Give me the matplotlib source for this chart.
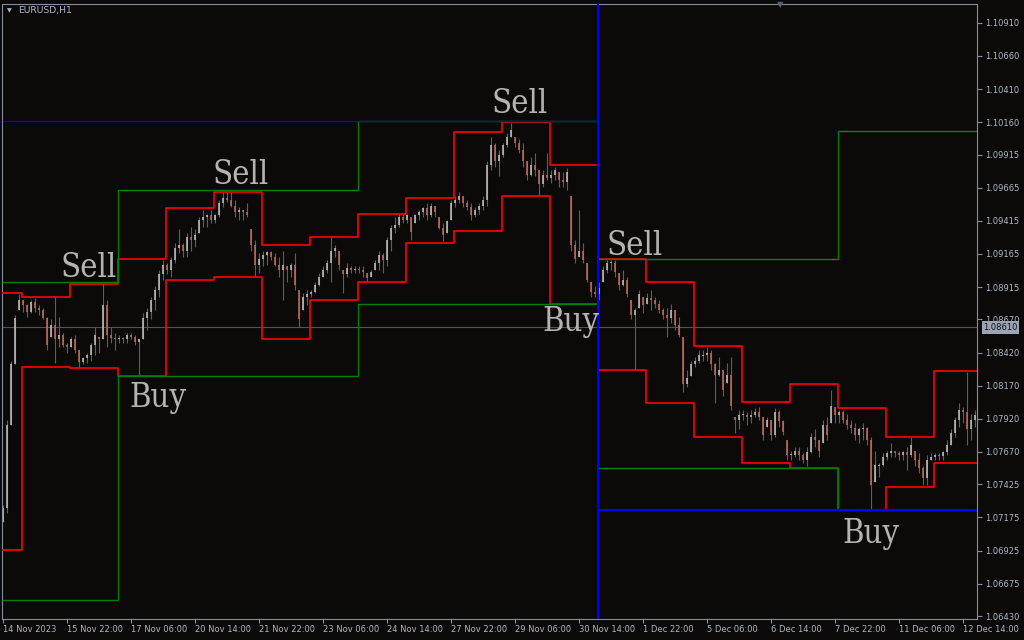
import numpy as np
import matplotlib
matplotlib.use("Agg")
import matplotlib.pyplot as plt
from matplotlib import font_manager
import matplotlib.transforms as mtransforms

# ---------------- data (EURUSD H1, one candle = 2 hourly bars) ----------------
highs = [
    1.0727, 1.0791, 1.0836, 1.0870, 1.0886, 1.0882, 1.0879, 1.0882, 1.0883, 1.0878,
    1.0876, 1.0869, 1.0867, 1.0884, 1.0869, 1.0857, 1.0849, 1.0854, 1.0855, 1.0844,
    1.0839, 1.0842, 1.0849, 1.0861, 1.0854, 1.0895, 1.0882, 1.0861, 1.0857, 1.0855,
    1.0854, 1.0857, 1.0857, 1.0855, 1.0852, 1.0872, 1.0876, 1.0884, 1.0892, 1.0904,
    1.0912, 1.0910, 1.0914, 1.0925, 1.0935, 1.0925, 1.0932, 1.0937, 1.0935, 1.0944,
    1.0950, 1.0947, 1.0950, 1.0947, 1.0957, 1.0963, 1.0963, 1.0963, 1.0957, 1.0952,
    1.0950, 1.0955,
    1.0935, 1.0927, 1.0917, 1.0919, 1.0919, 1.0919, 1.0917, 1.0914, 1.0919, 1.0907,
    1.0910, 1.0917, 1.0889, 1.0887, 1.0889, 1.0889, 1.0895, 1.0902, 1.0907, 1.0912,
    1.0929, 1.0923, 1.0919, 1.0904, 1.0910, 1.0907, 1.0907, 1.0907, 1.0907, 1.0902,
    1.0904, 1.0912, 1.0919, 1.0917, 1.0929, 1.0938, 1.0944, 1.0947, 1.0947, 1.0947,
    1.0944, 1.0947, 1.0950, 1.0952, 1.0955, 1.0955, 1.0953, 1.0944, 1.0940, 1.0942,
    1.0957, 1.0960, 1.0963, 1.0960, 1.0957, 1.0955, 1.0952, 1.0955, 1.0960, 1.0987,
    1.1005, 1.1000, 1.0995,
    1.1000, 1.1008, 1.1015, 1.1005, 1.1003, 1.1000, 1.0987, 1.0990, 1.0993, 1.0980,
    1.0980, 1.0993, 1.0980, 1.0982, 1.0978, 1.0978, 1.0981, 1.0960, 1.0927, 1.0950,
    1.0925, 1.0910, 1.0895, 1.0892, 1.0895, 1.0907, 1.0912, 1.0912, 1.0912, 1.0902,
    1.0904, 1.0899, 1.0882, 1.0876, 1.0889, 1.0884, 1.0887, 1.0889, 1.0884, 1.0882,
    1.0876, 1.0876, 1.0879, 1.0874, 1.0869, 1.0854, 1.0829, 1.0836, 1.0839, 1.0844,
    1.0844, 1.0846, 1.0844, 1.0834, 1.0839, 1.0829, 1.0834, 1.0839, 1.0793, 1.0799,
    1.0799, 1.0797, 1.0799, 1.0800, 1.0801, 1.0793, 1.0793, 1.0791, 1.0800, 1.0799,
    1.0791, 1.0776, 1.0768, 1.0771, 1.0771, 1.0766, 1.0771, 1.0781, 1.0784, 1.0776,
    1.0791, 1.0793, 1.0814, 1.0801, 1.0799, 1.0799, 1.0796, 1.0791, 1.0789, 1.0786,
    1.0789, 1.0786, 1.0778, 1.0768, 1.0759, 1.0766, 1.0768, 1.0774, 1.0768, 1.0768,
    1.0768, 1.0771, 1.0778, 1.0768, 1.0766, 1.0756, 1.0765, 1.0766, 1.0766, 1.0766,
    1.0768, 1.0776, 1.0784, 1.0793, 1.0804, 1.0801, 1.0827, 1.0796, 1.0799,
]
lows = [
    1.0714, 1.0721, 1.0787, 1.0833, 1.0874, 1.0873, 1.0869, 1.0872, 1.0873, 1.0870,
    1.0867, 1.0844, 1.0854, 1.0834, 1.0846, 1.0846, 1.0842, 1.0846, 1.0842, 1.0830,
    1.0833, 1.0834, 1.0836, 1.0840, 1.0842, 1.0852, 1.0846, 1.0849, 1.0844, 1.0849,
    1.0849, 1.0849, 1.0852, 1.0848, 1.0824, 1.0852, 1.0859, 1.0867, 1.0874, 1.0884,
    1.0897, 1.0901, 1.0899, 1.0910, 1.0917, 1.0914, 1.0914, 1.0919, 1.0922, 1.0932,
    1.0937, 1.0937, 1.0940, 1.0940, 1.0944, 1.0952, 1.0956, 1.0952, 1.0944, 1.0942,
    1.0942, 1.0944,
    1.0919, 1.0899, 1.0902, 1.0907, 1.0908, 1.0912, 1.0907, 1.0899, 1.0882, 1.0895,
    1.0899, 1.0889, 1.0861, 1.0874, 1.0878, 1.0884, 1.0887, 1.0892, 1.0899, 1.0902,
    1.0895, 1.0914, 1.0904, 1.0887, 1.0899, 1.0902, 1.0902, 1.0902, 1.0899, 1.0895,
    1.0899, 1.0904, 1.0904, 1.0902, 1.0907, 1.0919, 1.0932, 1.0937, 1.0940, 1.0940,
    1.0927, 1.0940, 1.0942, 1.0944, 1.0942, 1.0944, 1.0944, 1.0935, 1.0926, 1.0932,
    1.0942, 1.0952, 1.0955, 1.0952, 1.0950, 1.0942, 1.0944, 1.0947, 1.0950, 1.0953,
    1.0980, 1.0982, 1.0975,
    1.0990, 1.0997, 1.1005, 1.0997, 1.0993, 1.0982, 1.0972, 1.0975, 1.0975, 1.0960,
    1.0967, 1.0972, 1.0970, 1.0972, 1.0967, 1.0967, 1.0965, 1.0919, 1.0910, 1.0914,
    1.0910, 1.0895, 1.0884, 1.0884, 1.0882, 1.0895, 1.0902, 1.0904, 1.0899, 1.0889,
    1.0892, 1.0884, 1.0867, 1.0829, 1.0876, 1.0872, 1.0879, 1.0874, 1.0876, 1.0872,
    1.0867, 1.0854, 1.0864, 1.0859, 1.0854, 1.0812, 1.0816, 1.0824, 1.0831, 1.0834,
    1.0836, 1.0836, 1.0829, 1.0804, 1.0824, 1.0809, 1.0819, 1.0799, 1.0781, 1.0784,
    1.0791, 1.0787, 1.0789, 1.0793, 1.0791, 1.0776, 1.0786, 1.0776, 1.0778, 1.0786,
    1.0780, 1.0761, 1.0761, 1.0763, 1.0761, 1.0759, 1.0756, 1.0766, 1.0771, 1.0763,
    1.0774, 1.0776, 1.0789, 1.0789, 1.0789, 1.0789, 1.0784, 1.0781, 1.0776, 1.0774,
    1.0776, 1.0772, 1.0723, 1.0744, 1.0748, 1.0756, 1.0761, 1.0763, 1.0763, 1.0761,
    1.0761, 1.0753, 1.0763, 1.0756, 1.0751, 1.0742, 1.0742, 1.0761, 1.0761, 1.0761,
    1.0761, 1.0765, 1.0772, 1.0778, 1.0786, 1.0789, 1.0772, 1.0776, 1.0786,
]
closes = [
    1.0725, 1.0787, 1.0833, 1.0868, 1.0882, 1.0878, 1.0873, 1.0880, 1.0876, 1.0874,
    1.0868, 1.0848, 1.0863, 1.0852, 1.0855, 1.0848, 1.0846, 1.0852, 1.0844, 1.0835,
    1.0838, 1.0840, 1.0848, 1.0855, 1.0852, 1.0878, 1.0855, 1.0853, 1.0852, 1.0853,
    1.0852, 1.0855, 1.0854, 1.0850, 1.0852, 1.0868, 1.0873, 1.0882, 1.0889, 1.0901,
    1.0908, 1.0904, 1.0912, 1.0921, 1.0923, 1.0919, 1.0929, 1.0927, 1.0931, 1.0942,
    1.0944, 1.0946, 1.0942, 1.0946, 1.0955, 1.0959, 1.0957, 1.0953, 1.0948, 1.0950,
    1.0948, 1.0946,
    1.0923, 1.0908, 1.0913, 1.0916, 1.0918, 1.0914, 1.0908, 1.0904, 1.0908, 1.0904,
    1.0908, 1.0893, 1.0867, 1.0884, 1.0886, 1.0888, 1.0893, 1.0899, 1.0904, 1.0910,
    1.0919, 1.0921, 1.0908, 1.0901, 1.0906, 1.0904, 1.0905, 1.0904, 1.0903, 1.0898,
    1.0903, 1.0910, 1.0916, 1.0912, 1.0927, 1.0936, 1.0938, 1.0944, 1.0942, 1.0946,
    1.0933, 1.0946, 1.0948, 1.0951, 1.0946, 1.0953, 1.0948, 1.0936, 1.0931, 1.0941,
    1.0955, 1.0957, 1.0960, 1.0955, 1.0952, 1.0946, 1.0950, 1.0953, 1.0957, 1.0984,
    1.0999, 1.0987, 1.0991,
    1.0999, 1.1005, 1.1010, 1.1000, 1.0995, 1.0987, 1.0976, 1.0984, 1.0980, 1.0969,
    1.0976, 1.0974, 1.0976, 1.0980, 1.0972, 1.0971, 1.0978, 1.0923, 1.0913, 1.0919,
    1.0912, 1.0897, 1.0888, 1.0886, 1.0891, 1.0904, 1.0910, 1.0910, 1.0903, 1.0893,
    1.0897, 1.0886, 1.0870, 1.0874, 1.0886, 1.0878, 1.0883, 1.0882, 1.0879, 1.0874,
    1.0870, 1.0868, 1.0874, 1.0863, 1.0855, 1.0818, 1.0823, 1.0833, 1.0836, 1.0840,
    1.0840, 1.0842, 1.0833, 1.0825, 1.0829, 1.0814, 1.0825, 1.0802, 1.0791, 1.0795,
    1.0795, 1.0793, 1.0795, 1.0797, 1.0793, 1.0780, 1.0791, 1.0780, 1.0797, 1.0790,
    1.0782, 1.0765, 1.0765, 1.0768, 1.0765, 1.0761, 1.0767, 1.0778, 1.0776, 1.0768,
    1.0787, 1.0780, 1.0802, 1.0795, 1.0797, 1.0791, 1.0787, 1.0785, 1.0780, 1.0784,
    1.0785, 1.0776, 1.0742, 1.0757, 1.0757, 1.0763, 1.0766, 1.0768, 1.0766, 1.0765,
    1.0767, 1.0765, 1.0772, 1.0761, 1.0755, 1.0747, 1.0761, 1.0763, 1.0765, 1.0764,
    1.0767, 1.0772, 1.0781, 1.0791, 1.0799, 1.0797, 1.0784, 1.0791, 1.0795,
]

# channel levels (bar index where each level starts)
inner_breaks = [0, 9.5, 33.5, 57.5, 81.5, 105.5, 129.5, 153.5, 177.5, 201.5, 225.5,
                249.5, 273.5, 297.5, 321.5, 345.5, 369.5, 393.5, 417.5, 441.5, 465.5]
inner_upper = [1.0887, 1.0884, 1.0894, 1.0913, 1.0951, 1.0963, 1.0923, 1.0929, 1.0947,
               1.0959, 1.10085, 1.1016, 1.0984, 1.0913, 1.0895, 1.0847, 1.0805, 1.0818,
               1.0800, 1.0778, 1.0828]
inner_lower = [1.0693, 1.0831, 1.0830, 1.0824, 1.0897, 1.0899, 1.0852, 1.0882, 1.0895,
               1.0925, 1.0934, 1.0960, 1.0879, 1.0829, 1.0804, 1.0778, 1.0759, 1.0755,
               1.0723, 1.07405, 1.0759]
outer_breaks = [0, 57.5, 177.5, 297.5, 417.5]
outer_upper = [1.0895, 1.0965, 1.10168, 1.0913, 1.1009]
outer_lower = [1.0655, 1.0824, 1.0879, 1.0755, 1.0723]
half_breaks = [0, 297.5]
half_levels = [1.10168, 1.0723]
bid_price = 1.08610

signals = [("Sell", 43.0, 1.0899), ("Buy", 77.5, 1.0801), ("Sell", 119.0, 1.0969),
           ("Sell", 258.5, 1.1023), ("Buy", 284.0, 1.0858), ("Sell", 316.0, 1.0916),
           ("Buy", 434.0, 1.0698)]

x_labels = ["14 Nov 2023", "15 Nov 22:00", "17 Nov 06:00", "20 Nov 14:00",
            "21 Nov 22:00", "23 Nov 06:00", "24 Nov 14:00", "27 Nov 22:00",
            "29 Nov 06:00", "30 Nov 14:00", "1 Dec 22:00", "5 Dec 06:00",
            "6 Dec 14:00", "7 Dec 22:00", "11 Dec 06:00", "12 Dec 14:00"]
y_ticks = [1.10910, 1.10660, 1.10410, 1.10160, 1.09915, 1.09665, 1.09415, 1.09165,
           1.08915, 1.08670, 1.08420, 1.08170, 1.07920, 1.07670, 1.07425, 1.07175,
           1.06925, 1.06675, 1.06430]
y_tick_labels = ["%.5f" % v for v in y_ticks]

# ---------------- style ----------------
BG = "#0c0a08"
FRAME = "#868d9c"
TXT = "#aeb6c6"
BULL = "#c4c4c4"
BEAR = "#c46c5c"
WICK = "#5e5e5e"

fig = plt.figure(figsize=(10.24, 6.4), dpi=100, facecolor=BG)
ax = fig.add_axes([2 / 1024, 21 / 640, 975 / 1024, 615 / 640], facecolor=BG)
ax.set_xlim(-0.5, 487)
ax.set_ylim(1.064085, 1.110518)

# candles
n = len(highs)
pos = np.arange(n) * 2.0
hi = np.array(highs)
lo = np.array(lows)
cl = np.array(closes)
op = np.concatenate([[lo[0]], cl[:-1]])
btop = np.minimum(np.maximum(op, cl), hi)
bbot = np.maximum(np.minimum(op, cl), lo)
tiny = (btop - bbot) < 0.00008
btop = np.where(tiny, btop + 0.00004, btop)
bbot = np.where(tiny, bbot - 0.00004, bbot)
colors = [BULL if c >= o else BEAR for o, c in zip(op, cl)]
ax.vlines(pos, lo, hi, color=WICK, lw=0.8, zorder=2)
ax.vlines(pos, bbot, btop, color=colors, lw=1.1, zorder=2.1)

# bid line
ax.axhline(bid_price, color="#4e5261", lw=0.8, zorder=1.5)

END = 487


def step(ax, breaks, levels, **kw):
    xs = list(breaks) + [END]
    ys = list(levels) + [levels[-1]]
    ax.plot(xs, ys, drawstyle="steps-post", **kw)


step(ax, inner_breaks, inner_upper, color="#ff0000", lw=1.2, zorder=3)
step(ax, inner_breaks, inner_lower, color="#ff0000", lw=1.2, zorder=3)
step(ax, outer_breaks, outer_upper, color="#008000", lw=1.0, zorder=4)
step(ax, outer_breaks, outer_lower, color="#008000", lw=1.0, zorder=4)
ax.plot([half_breaks[0], half_breaks[1]], [half_levels[0]] * 2, color="#0000ff", lw=0.9, zorder=5)
ax.plot([half_breaks[1], END], [half_levels[1]] * 2, color="#0000ff", lw=1.5, zorder=5)
ax.axvline(half_breaks[1], color="#0000ff", lw=1.5, zorder=5)

# signal labels
cond = any(f.name == "DejaVu Serif" and "ondensed" in f.fname
           for f in font_manager.fontManager.ttflist)
sig_kw = dict(family="DejaVu Serif", fontsize=23.5 if cond else 21.5,
              fontstretch="condensed" if cond else "normal")
for txt, bx, py in signals:
    ax.text(bx, py, txt, ha="center", va="baseline", color="#b4b4b4", zorder=6, **sig_kw)

# axes styling
for s in ax.spines.values():
    s.set_color(FRAME)
    s.set_linewidth(0.8)
ax.yaxis.tick_right()
ax.set_yticks(y_ticks)
ax.set_yticklabels(y_tick_labels)
ax.set_xticks(np.arange(len(x_labels)) * 32)
ax.set_xticklabels(x_labels, ha="left")
ax.tick_params(axis="y", direction="out", length=3.5, width=0.8, colors=FRAME,
               labelcolor=TXT, labelsize=6, pad=2)
ax.tick_params(axis="x", direction="out", length=3, width=0.8, colors=FRAME,
               labelcolor=TXT, labelsize=6, pad=1.5)
for lab in ax.get_xticklabels() + ax.get_yticklabels():
    lab.set_family("DejaVu Sans")

# current price tag
trans = mtransforms.blended_transform_factory(ax.transAxes, ax.transData)
ax.text(1.0065, bid_price, "%.5f" % bid_price, transform=trans, ha="left", va="center",
        fontsize=6, color="#111111", family="DejaVu Sans", clip_on=False, zorder=10,
        bbox=dict(facecolor="#9ba3b4", edgecolor="none", pad=1.2))

# header + markers
fig.text(18 / 1024, 1 - 10.5 / 640, "EURUSD,H1", ha="left", va="center",
         fontsize=6.7, color=TXT, family="DejaVu Sans")
fig.text(9 / 1024, 1 - 10.5 / 640, "\u25bc", ha="center", va="center",
         fontsize=4.5, color=TXT, family="DejaVu Sans")
fig.text(780 / 1024, 1 - 5 / 640, "\u25bc", ha="center", va="center",
         fontsize=6, color="#56617a", family="DejaVu Sans")

fig.savefig("out.png", dpi=100, facecolor=BG)
